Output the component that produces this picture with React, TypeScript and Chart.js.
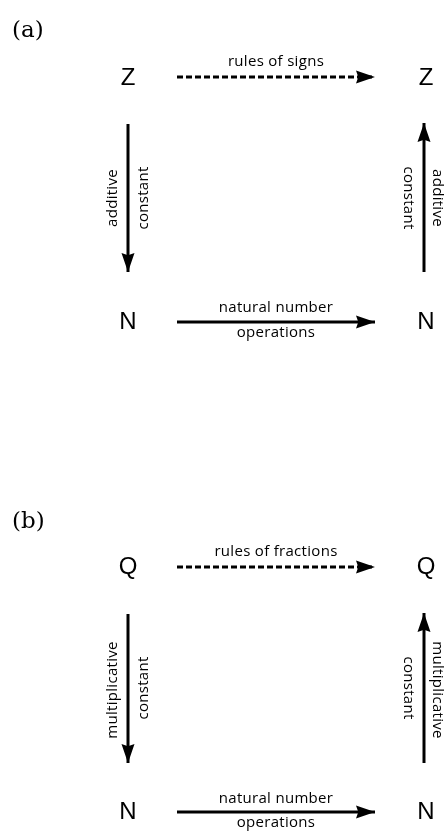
import React, { useEffect, useRef } from "react";
import { Chart, registerables } from "chart.js";

Chart.register(...registerables);

// Diagram data (in diagram units, 0..445 horizontally, 0..836 vertically)
const panelLabels = ["(a)", "(b)"];
const panelX = [12, 12];
const panelY = [31, 522];

const nodeLabels = ["Z", "Z", "N", "N", "Q", "Q", "N", "N"];
const nodeX = [128, 426, 128, 426, 128, 426, 128, 426];
const nodeY = [78, 78, 322, 322, 567, 567, 812, 812];

const arrowX1 = [177, 128, 424, 177, 177, 128, 424, 177];
const arrowY1 = [77, 124, 272, 322, 567, 614, 763, 812];
const arrowX2 = [375, 128, 424, 375, 375, 128, 424, 375];
const arrowY2 = [77, 272, 123, 322, 567, 763, 613, 812];
const arrowDashed = [true, false, false, false, true, false, false, false];

const edgeLabels = [
  "rules of signs", "additive", "constant", "constant", "additive", "natural number", "operations",
  "rules of fractions", "multiplicative", "constant", "constant", "multiplicative", "natural number", "operations",
];
const edgeLabelX = [276, 113, 144, 408, 437, 276, 276, 276, 113, 144, 408, 437, 276, 276];
const edgeLabelY = [62, 198, 198, 198, 198, 308, 333, 552, 690, 688, 688, 690, 799, 823];
const edgeLabelAngle = [0, -90, -90, 90, 90, 0, 0, 0, -90, -90, 90, 90, 0, 0];

const SANS = '"Open Sans", "Liberation Sans", Arial, sans-serif';
const NODE_SANS = '"Liberation Sans", Arial, sans-serif';
const SERIF = '"DejaVu Serif", "Liberation Serif", serif';

const diagramPlugin = {
  id: "diagram",
  afterDatasetsDraw(chart: any) {
    const ctx = chart.ctx as CanvasRenderingContext2D;
    const xs = chart.scales.x;
    const ys = chart.scales.y;
    ctx.save();
    // arrowheads
    for (let i = 0; i < arrowX1.length; i++) {
      const x1 = xs.getPixelForValue(arrowX1[i]);
      const y1 = ys.getPixelForValue(arrowY1[i]);
      const x2 = xs.getPixelForValue(arrowX2[i]);
      const y2 = ys.getPixelForValue(arrowY2[i]);
      const len = Math.hypot(x2 - x1, y2 - y1);
      const dx = (x2 - x1) / len;
      const dy = (y2 - y1) / len;
      const nx = -dy;
      const ny = dx;
      const L = 19;
      const W = 6.5;
      ctx.fillStyle = "#000";
      ctx.beginPath();
      ctx.moveTo(x2, y2);
      ctx.lineTo(x2 - L * dx + W * nx, y2 - L * dy + W * ny);
      ctx.lineTo(x2 - L * 0.88 * dx, y2 - L * 0.88 * dy);
      ctx.lineTo(x2 - L * dx - W * nx, y2 - L * dy - W * ny);
      ctx.closePath();
      ctx.fill();
    }
    // nodes
    ctx.fillStyle = "#000";
    ctx.textAlign = "center";
    ctx.textBaseline = "middle";
    ctx.font = `24px ${NODE_SANS}`;
    for (let i = 0; i < nodeLabels.length; i++) {
      ctx.fillText(nodeLabels[i], xs.getPixelForValue(nodeX[i]), ys.getPixelForValue(nodeY[i]));
    }
    // edge labels
    ctx.font = `15px ${SANS}`;
    (ctx as any).letterSpacing = "0.3px";
    for (let i = 0; i < edgeLabels.length; i++) {
      ctx.save();
      ctx.translate(xs.getPixelForValue(edgeLabelX[i]), ys.getPixelForValue(edgeLabelY[i]));
      ctx.rotate((edgeLabelAngle[i] * Math.PI) / 180);
      ctx.fillText(edgeLabels[i], 0, 0);
      ctx.restore();
    }
    (ctx as any).letterSpacing = "0px";
    // panel labels
    ctx.textAlign = "left";
    ctx.font = `23px ${SERIF}`;
    for (let i = 0; i < panelLabels.length; i++) {
      ctx.fillText(panelLabels[i], xs.getPixelForValue(panelX[i]), ys.getPixelForValue(panelY[i]));
    }
    ctx.restore();
  },
};

export default function App() {
  const ref = useRef<HTMLCanvasElement | null>(null);
  useEffect(() => {
    if (!ref.current) return;
    const datasets = arrowX1.map((_, i) => ({
      data: [
        { x: arrowX1[i], y: arrowY1[i] },
        { x: arrowX2[i], y: arrowY2[i] },
      ],
      showLine: true,
      borderColor: "#000",
      borderWidth: 3,
      borderDash: arrowDashed[i] ? [6, 3] : [],
      borderCapStyle: "butt" as const,
      pointRadius: 0,
      fill: false,
    }));
    const chart = new Chart(ref.current, {
      type: "scatter",
      data: { datasets },
      options: {
        animation: false,
        responsive: false,
        maintainAspectRatio: false,
        layout: { padding: 0 },
        plugins: { legend: { display: false }, tooltip: { enabled: false } },
        scales: {
          x: { type: "linear", min: 0, max: 445, display: false },
          y: { type: "linear", min: 0, max: 836, reverse: true, display: false },
        },
      },
      plugins: [diagramPlugin],
    });
    return () => chart.destroy();
  }, []);
  return (
    <div style={{ position: "fixed", left: 0, top: 0, width: 445, height: 836, background: "#fff" }}>
      <canvas ref={ref} width={445} height={836} />
    </div>
  );
}
